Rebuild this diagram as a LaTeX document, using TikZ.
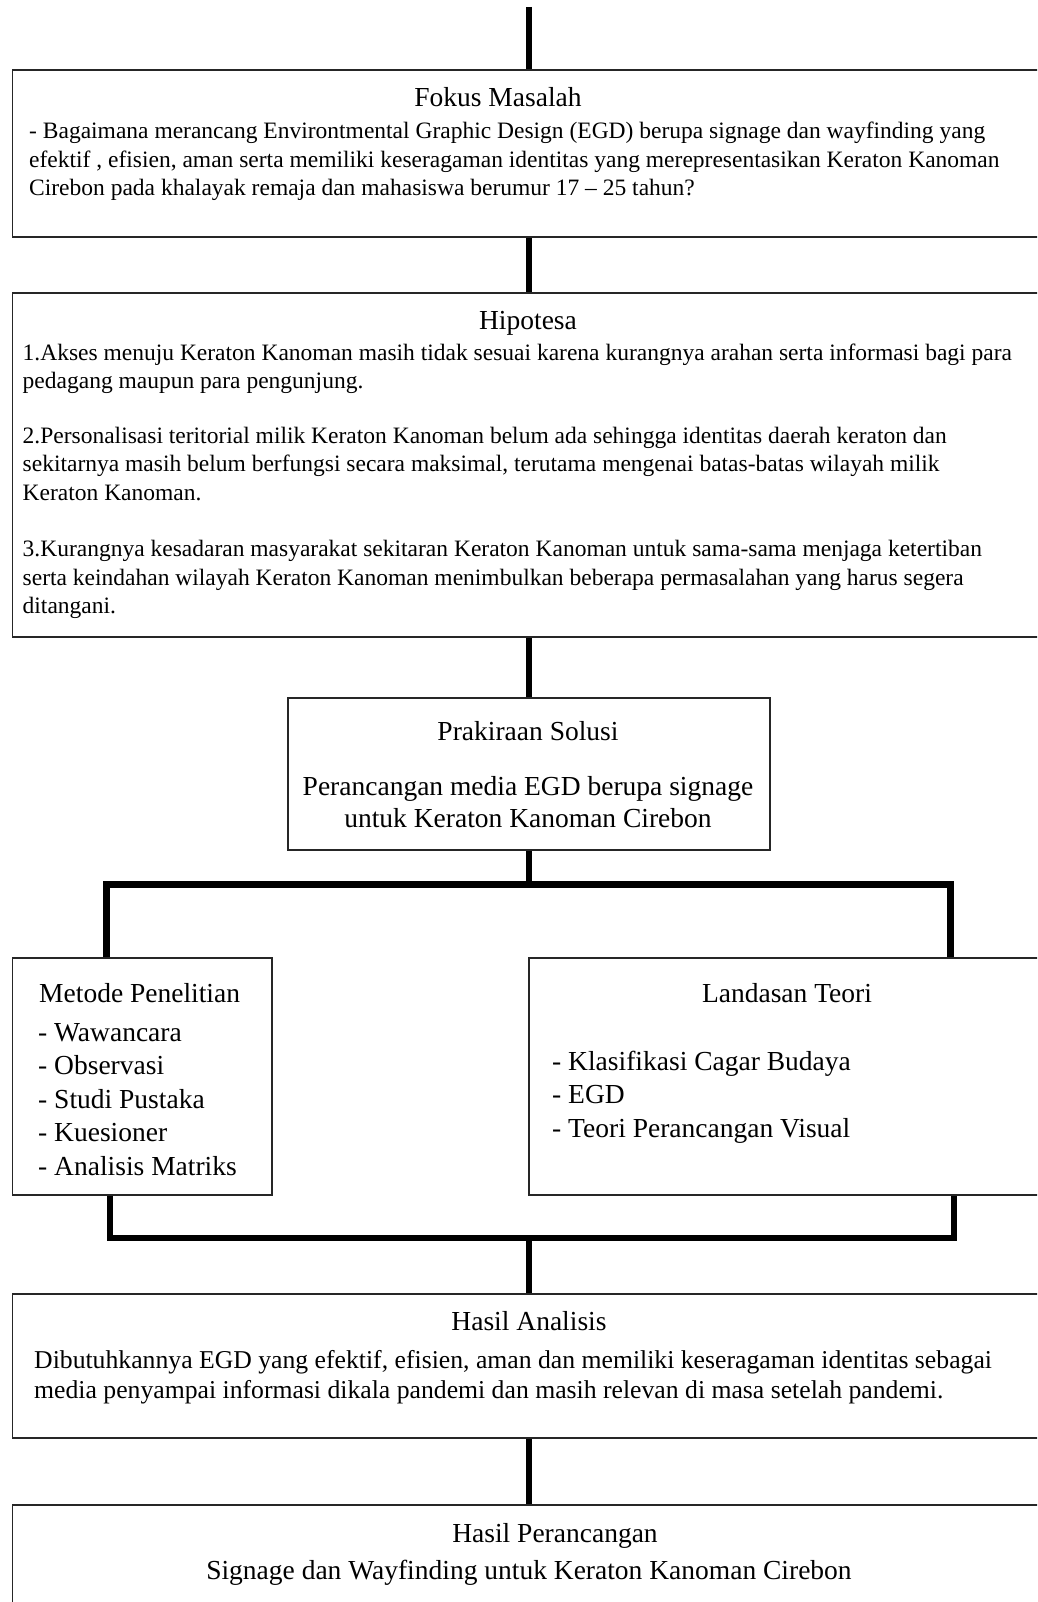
\documentclass[tikz,border=0pt]{standalone}
\usepackage{fontspec}
\setmainfont{Liberation Serif}
\usetikzlibrary{positioning}
\begin{document}
\begin{tikzpicture}[x=1pt, y=-1pt,
    kotak/.style={draw=black!85, line width=1.8pt, inner sep=0pt, anchor=north west},
    judul/.style={inner sep=0pt, anchor=base, font=\fontsize{27.5}{33}\selectfont},
    isi/.style={inner sep=0pt, anchor=base west, text width=1010pt, align=flush left, font=\fontsize{23.5}{28.5}\selectfont},
    besar/.style={inner sep=0pt, anchor=base west, text width=400pt, align=flush left, font=\fontsize{27.5}{33.5}\selectfont},
    link/.style={line width=5.5pt},
    cabang/.style={line width=7pt, line join=miter}]
  \clip (0,0) rectangle (1037,1602);
  % kotak-kotak
  \node[kotak, minimum width=1028.5pt, minimum height=167pt] (fokus) at (11.5,69) {};
  \node[kotak, minimum width=1028.5pt, minimum height=344pt] (hipotesa) at (11.5,292) {};
  \node[kotak, minimum width=482pt, minimum height=152pt] (solusi) at (287,697) {};
  \node[kotak, minimum width=259.5pt, minimum height=237pt] (metode) at (11.5,957) {};
  \node[kotak, minimum width=512pt, minimum height=237pt] (teori) at (528,957) {};
  \node[kotak, minimum width=1028.5pt, minimum height=144pt] (analisis) at (11.5,1293) {};
  \node[kotak, minimum width=1028.5pt, minimum height=130pt] (rancang) at (11.5,1504) {};
  % teks
  \node[judul] (fokusJudul) at (498,107) {Fokus Masalah};
  \node[isi] (fokusIsi) at (29,139) {- Bagaimana merancang Environtmental Graphic Design (EGD) berupa signage dan wayfinding yang\\
    efektif , efisien, aman serta memiliki keseragaman identitas yang merepresentasikan Keraton Kanoman\\
    Cirebon pada khalayak remaja dan mahasiswa berumur 17 -- 25 tahun?};
  \node[judul] (hipotesaJudul) at (528,329) {Hipotesa};
  \node[isi] (hipotesaIsi) at (22.5,360) {1.Akses menuju Keraton Kanoman masih tidak sesuai karena kurangnya arahan serta informasi bagi para\\
    pedagang maupun para pengunjung.\\[26pt]
    2.Personalisasi teritorial milik Keraton Kanoman belum ada sehingga identitas daerah keraton dan\\
    sekitarnya masih belum berfungsi secara maksimal, terutama mengenai batas-batas wilayah milik\\
    Keraton Kanoman.\\[28pt]
    3.Kurangnya kesadaran masyarakat sekitaran Keraton Kanoman untuk sama-sama menjaga ketertiban\\
    serta keindahan wilayah Keraton Kanoman menimbulkan beberapa permasalahan yang harus segera\\
    ditangani.};
  \node[judul] (solusiJudul) at (528,740) {Prakiraan Solusi};
  \node[judul, text width=480pt, align=flush center, font=\fontsize{27.5}{32}\selectfont] (solusiIsi) at (528,795)
    {Perancangan media EGD berupa signage\\untuk Keraton Kanoman Cirebon};
  \node[judul, anchor=base west] (metodeJudul) at (39,1002) {Metode Penelitian};
  \node[besar] (metodeIsi) at (38,1041) {- Wawancara\\- Observasi\\- Studi Pustaka\\- Kuesioner\\- Analisis Matriks};
  \node[judul] (teoriJudul) at (787,1002) {Landasan Teori};
  \node[besar] (teoriIsi) at (552,1070) {- Klasifikasi Cagar Budaya\\- EGD\\- Teori Perancangan Visual};
  \node[judul] (analisisJudul) at (529,1330) {Hasil Analisis};
  \node[isi, font=\fontsize{25.7}{30.5}\selectfont] (analisisIsi) at (34,1368)
    {Dibutuhkannya EGD yang efektif, efisien, aman dan memiliki keseragaman identitas sebagai\\
    media penyampai informasi dikala pandemi dan masih relevan di masa setelah pandemi.};
  \node[judul] (rancangJudul) at (555,1542) {Hasil Perancangan};
  \node[judul] (rancangIsi) at (529,1579) {Signage dan Wayfinding untuk Keraton Kanoman Cirebon};
  % garis penghubung
  \coordinate (awal) at (529,7);
  \coordinate (pisah) at (529,884);
  \coordinate (pisahKiri) at (106,884);
  \coordinate (pisahKanan) at (950,884);
  \coordinate (gabung) at (529,1238);
  \coordinate (gabungKiri) at (110,1238);
  \coordinate (gabungKanan) at (954,1238);
  \draw[link] (awal) -- (fokus.north -| awal);
  \draw[link] (fokus.south -| awal) -- (hipotesa.north -| awal);
  \draw[link] (hipotesa.south -| awal) -- (solusi.north -| awal);
  \draw[link] (solusi.south -| awal) -- (pisah);
  \draw[cabang] (metode.north -| pisahKiri) |- (pisah) -| (teori.north -| pisahKanan);
  \draw[link] (metode.south -| gabungKiri) |- (gabung) -| (teori.south -| gabungKanan);
  \draw[link] (gabung) -- (analisis.north -| gabung);
  \draw[link] (analisis.south -| gabung) -- (rancang.north -| gabung);
\end{tikzpicture}
\end{document}
